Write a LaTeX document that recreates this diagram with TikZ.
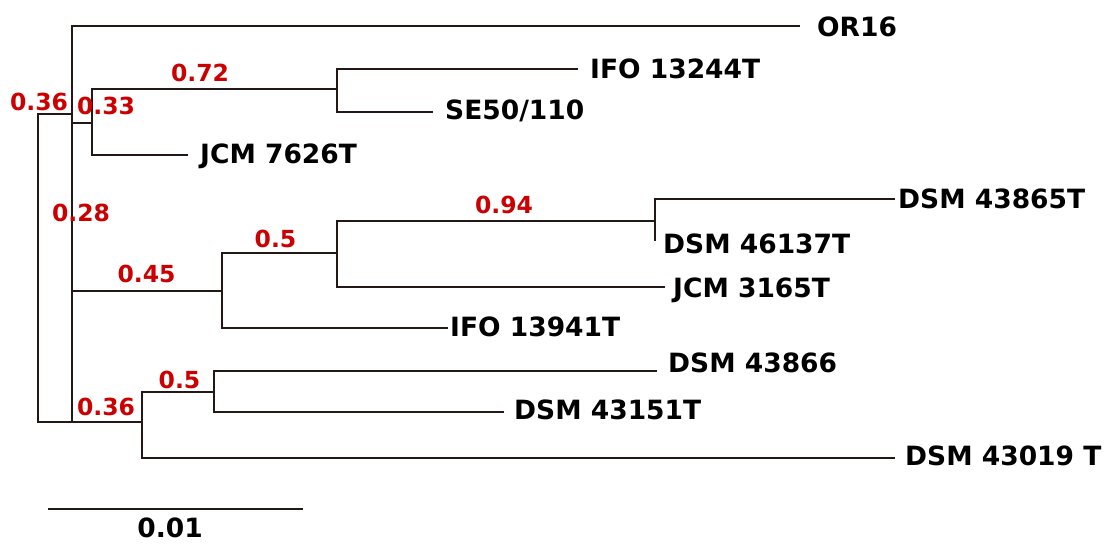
\documentclass[tikz,border=0pt]{standalone}
\usepackage{fontspec}
\setmainfont{DejaVu Sans}
\definecolor{branchcol}{HTML}{231815}
\definecolor{supportcol}{HTML}{CC0000}
\tikzset{
	branch/.style={draw=branchcol,line width=2.4pt},
	taxon/.style={anchor=west,inner sep=0pt,text depth=0pt,font=\bfseries\fontsize{26.5}{30}\selectfont},
	support/.style={inner sep=0pt,text depth=0pt,text=supportcol,font=\bfseries\fontsize{23.5}{28}\selectfont},
	scalelabel/.style={inner sep=0pt,text depth=0pt,font=\bfseries\fontsize{26.5}{30}\selectfont},
}
\begin{document}
\begin{tikzpicture}[x=1pt,y=-1pt]
	\useasboundingbox (0,0) rectangle (1107,544);
	\path 
		(38,114) coordinate (R1)
		(38,422) coordinate (R2)
		(72,114) coordinate (S1)
		(72,422) coordinate (S2)
		(72,123) coordinate (S3)
		(72,291) coordinate (S4)
		(92,123) coordinate (A0)
		(92,155) coordinate (A2)
		(337,89) coordinate (B0)
		(337,112) coordinate (B2)
		(222,291) coordinate (C0)
		(222,328) coordinate (C2)
		(337,253) coordinate (D0)
		(337,287) coordinate (D2)
		(655,221) coordinate (E0)
		(655,241) coordinate (E2)
		(142,422) coordinate (F0)
		(142,458) coordinate (F2)
		(214,392) coordinate (G0)
		(214,412) coordinate (G2)
		(800,26) coordinate (T1)
		(578,69) coordinate (T2)
		(433,112) coordinate (T3)
		(188,155) coordinate (T4)
		(895,199) coordinate (T5)
		(665,287) coordinate (T6)
		(448,328) coordinate (T7)
		(657,371) coordinate (T8)
		(504,412) coordinate (T9)
		(895,458) coordinate (T10)
		(48,509) coordinate (L1)
		(303,509) coordinate (L2)
		;
		
	\draw[branch]
		(S1) -- (R1) -- (R2) -- (F0)
		(T1) -| (S2)
		(S3) -- (A0)
		(B0) -| (A2) -- (T4)
		(T2) -| (B2) -- (T3)
		(S4) -- (C0)
		(D0) -| (C2) -- (T7)
		(E0) -| (D2) -- (T6)
		(T5) -| (E2)
		(G0) -| (F2) -- (T10)
		(T8) -| (G2) -- (T9)
		(L1) -- (L2)
	;
	
	\node[taxon] (or16) at (817,27) {OR16};
	\node[taxon] (ifo13244) at (590,69) {IFO 13244T};
	\node[taxon] (se50) at (445,110) {SE50/110};
	\node[taxon] (jcm7626) at (200,154) {JCM 7626T};
	\node[taxon] (dsm43865) at (898,199) {DSM 43865T};
	\node[taxon] (dsm46137) at (663,244) {DSM 46137T};
	\node[taxon] (jcm3165) at (673,288) {JCM 3165T};
	\node[taxon] (ifo13941) at (450,327) {IFO 13941T};
	\node[taxon] (dsm43866) at (668,363) {DSM 43866};
	\node[taxon] (dsm43151) at (514,410) {DSM 43151T};
	\node[taxon] (dsm43019) at (905,456) {DSM 43019 T};
	\node[scalelabel] (scale) at (170,528) {0.01};
	
	\node[support] (bs1) at (39,102) {0.36};
	\node[support] (bs2) at (106,106) {0.33};
	\node[support] (bs3) at (200,73) {0.72};
	\node[support] (bs4) at (81,213) {0.28};
	\node[support] (bs5) at (146.5,274) {0.45};
	\node[support] (bs6) at (275.5,239) {0.5};
	\node[support] (bs7) at (504,205) {0.94};
	\node[support] (bs8) at (179.5,380) {0.5};
	\node[support] (bs9) at (106,407) {0.36};
\end{tikzpicture}
\end{document}
